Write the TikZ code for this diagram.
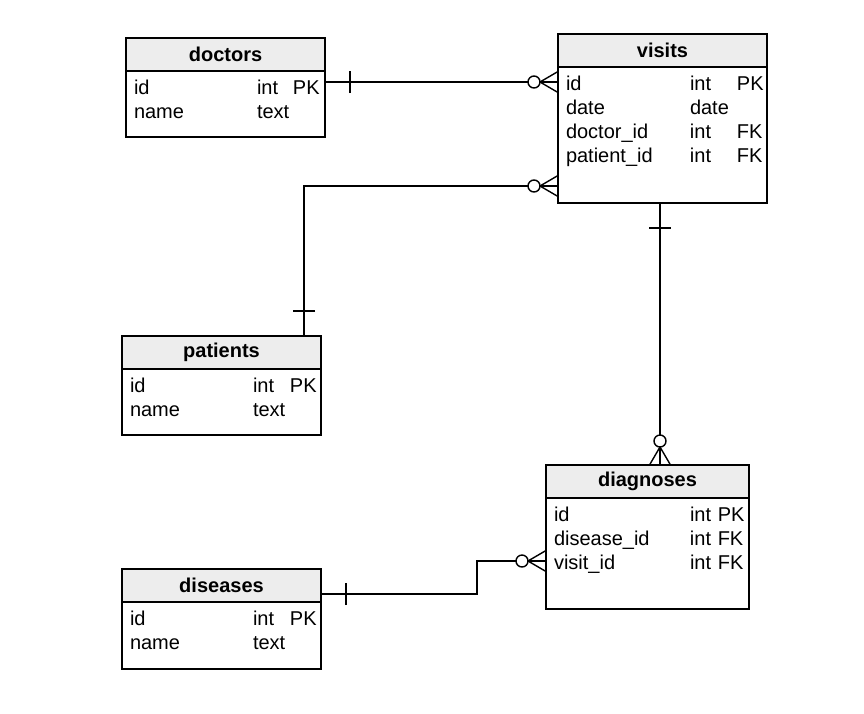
\documentclass[tikz,border=0pt]{standalone}
\usepackage{fontspec}
\setmainfont{Liberation Sans}

\tikzset{
  thead/.style={draw, fill=black!7, font=\fontsize{20}{24}\selectfont\bfseries, minimum height=33pt, inner sep=0pt, outer sep=0pt, anchor=north west},
  tbody/.style={draw, anchor=north west, inner xsep=8pt, inner ysep=5pt, outer sep=0pt, text height=18.8pt, align=left},
  onetick/.pic={\draw (-25,-11) -- (-25,11);},
  zeromany/.pic={\draw (0,-10.5) -- (-18,0) -- (0,10.5);
    \draw[fill=white] (-24,0) circle (6);}
}

\begin{document}
\begin{tikzpicture}[x=1pt, y=-1pt, line width=1.4pt, font=\fontsize{20}{24}\selectfont]
  \useasboundingbox (0,0) rectangle (864,713);

  % tables
  \node[thead, minimum width=199pt] (doc) at (126,38) {doctors};
  \node[tbody, text width=183pt, text depth=37.2pt] (doc-body) at (doc.south west) {%
    \begin{tabular}[t]{@{}p{123pt}@{}p{36pt}@{}l@{}}
      id & int & PK\\
      name & text &
    \end{tabular}};

  \node[thead, minimum width=209pt] (vis) at (558,34) {visits};
  \node[tbody, text width=193pt, text depth=107.2pt] (vis-body) at (vis.south west) {%
    \begin{tabular}[t]{@{}p{124pt}@{}p{47pt}@{}l@{}}
      id & int & PK\\
      date & date & \\
      doctor\_id & int & FK\\
      patient\_id & int & FK
    \end{tabular}};

  \node[thead, minimum width=199pt] (pat) at (122,336) {patients};
  \node[tbody, text width=183pt, text depth=37.2pt] (pat-body) at (pat.south west) {%
    \begin{tabular}[t]{@{}p{123pt}@{}p{37pt}@{}l@{}}
      id & int & PK\\
      name & text &
    \end{tabular}};

  \node[thead, minimum width=203pt] (diag) at (546,465) {diagnoses};
  \node[tbody, text width=187pt, text depth=82.2pt] (diag-body) at (diag.south west) {%
    \begin{tabular}[t]{@{}p{136pt}@{}l@{}}
      id & int PK\\
      disease\_id & int FK\\
      visit\_id & int FK
    \end{tabular}};

  \node[thead, minimum width=199pt] (dis) at (122,569) {diseases};
  \node[tbody, text width=183pt, text depth=38.2pt] (dis-body) at (dis.south west) {%
    \begin{tabular}[t]{@{}p{123pt}@{}p{37pt}@{}l@{}}
      id & int & PK\\
      name & text &
    \end{tabular}};

  % relations
  \coordinate (d1) at ([yshift=-11pt]doc-body.north east);
  \coordinate (v1) at (d1 -| vis-body.west);
  \coordinate (p1) at ([xshift=182pt]pat.north west);
  \coordinate (v2) at ([yshift=-119pt]vis-body.north west);
  \coordinate (v3) at ([xshift=102pt]vis-body.south west);
  \coordinate (g1) at (v3 |- diag.north);
  \coordinate (s1) at ([yshift=-25pt]dis.north east);
  \coordinate (g2) at ([yshift=-63pt]diag-body.north west);

  \draw (d1) -- (v1);
  \draw (p1) |- (v2);
  \draw (v3) -- (g1);
  \draw (s1) -- ++(156,0) |- (g2);

  \pic[rotate=180] at (d1) {onetick};
  \pic at (v1) {zeromany};
  \pic[rotate=-90] at (p1) {onetick};
  \pic at (v2) {zeromany};
  \pic[rotate=90] at (v3) {onetick};
  \pic[rotate=-90] at (g1) {zeromany};
  \pic[rotate=180] at (s1) {onetick};
  \pic at (g2) {zeromany};
\end{tikzpicture}
\end{document}
